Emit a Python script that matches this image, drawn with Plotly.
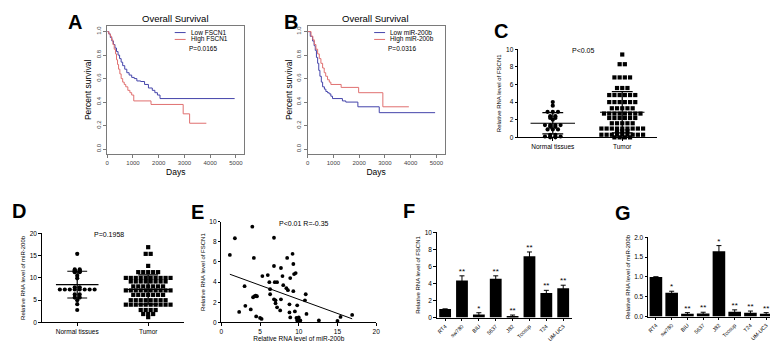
import numpy as np
import plotly.graph_objects as go
from collections import Counter

W, H = 778, 341
FONT = "Arial, Liberation Sans, sans-serif"

# ---------------- DATA ----------------
# A: Kaplan-Meier, FSCN1
low_fscn1_t = [0, 60, 120, 180, 240, 300, 360, 420, 480, 540, 600, 680, 760, 850, 950, 1050, 1150, 1300, 1450, 1600, 1750, 1850, 1950, 2050, 4950]
low_fscn1_s = [1.0, 0.98, 0.95, 0.92, 0.89, 0.86, 0.83, 0.80, 0.77, 0.74, 0.71, 0.68, 0.65, 0.63, 0.61, 0.60, 0.58, 0.575, 0.55, 0.52, 0.50, 0.48, 0.46, 0.43, 0.43]
high_fscn1_t = [0, 60, 120, 170, 220, 270, 320, 360, 400, 440, 490, 540, 600, 660, 720, 800, 880, 950, 1030, 1700, 2950, 3200, 3850]
high_fscn1_s = [1.0, 0.98, 0.96, 0.93, 0.89, 0.85, 0.81, 0.76, 0.72, 0.68, 0.64, 0.60, 0.57, 0.55, 0.53, 0.50, 0.48, 0.46, 0.41, 0.38, 0.30, 0.22, 0.22]
# B: Kaplan-Meier, miR-200b
low_mir_t = [0, 100, 190, 250, 295, 340, 386, 430, 475, 530, 580, 650, 707, 770, 834, 900, 965, 1350, 1480, 1950, 2780, 4950]
low_mir_s = [1.0, 0.96, 0.92, 0.88, 0.84, 0.78, 0.73, 0.67, 0.62, 0.57, 0.53, 0.51, 0.49, 0.48, 0.47, 0.45, 0.43, 0.41, 0.40, 0.36, 0.31, 0.31]
high_mir_t = [0, 130, 200, 257, 320, 386, 450, 514, 580, 642, 700, 772, 840, 900, 1300, 1980, 2920, 3930]
high_mir_s = [1.0, 0.96, 0.93, 0.89, 0.85, 0.81, 0.77, 0.73, 0.69, 0.65, 0.62, 0.59, 0.57, 0.55, 0.525, 0.48, 0.36, 0.36]
days_ticks = [0, 1000, 2000, 3000, 4000, 5000]
surv_ticks = [0.0, 0.2, 0.4, 0.6, 0.8, 1.0]

# C: FSCN1 expression
groups = ["Normal tissues", "Tumor"]
c_normal = [4.0, 3.6, 2.9, 2.9, 2.9, 2.4, 2.4, 2.2, 2.2, 2.0, 1.4, 1.4, 1.4, 1.4, 1.2, 1.2,
            0.9, 0.9, 0.9, 0.3, 0.3, 0.1, 0.1, 0.1, 0.1, 0.0, 0.0]
c_tumor = ([9.4] + [8.3] * 2 + [6.8] * 4 + [5.6] * 3 + [4.8] * 6 + [4.0] * 6 + [3.3] * 5 +
           [2.7] * 8 + [2.2] * 6 + [1.6] * 5 + [1.0] * 9 + [0.7] * 3 + [0.3] * 9 + [0.0] * 4)
c_mean = [1.6, 2.85]
c_sd = [1.2, 2.35]

# D: miR-200b expression
d_normal = [15.4, 11.9, 11.9, 11.7, 11.7, 11.5, 11.5, 11.3, 11.3, 10.5, 9.9, 7.9, 7.9,
            7.4, 7.4, 7.4, 7.4, 7.4, 7.4, 7.4, 7.4, 6.3, 6.3, 5.6, 5.6, 5.0, 4.1, 2.8]
d_tumor = ([16.9] + [15.4] * 2 + [12.7] + [11.3] * 5 + [10.0] * 10 + [9.2] * 8 + [8.1] * 7 +
           [7.2] * 10 + [6.2] * 7 + [5.0] * 8 + [4.0] * 10 + [2.8] * 4 + [1.9] * 3 + [1.2])
d_mean = [8.5, 7.4]
d_sd = [3.0, 3.3]

# E: correlation
e_mir = [1.1, 1.75, 2.3, 3.0, 3.1, 3.8, 4.0, 4.2, 4.3, 4.45, 4.6, 4.1, 4.5, 5.0, 5.2, 5.3, 6.0, 6.2,
         6.3, 6.3, 6.8, 6.8, 6.8, 6.9, 7.0, 7.0, 7.2, 7.2, 7.6, 7.7, 7.7, 7.9, 8.0, 8.4, 8.5, 8.6,
         8.8, 8.8, 8.9, 8.9, 9.2, 9.3, 9.3, 9.4, 9.6, 9.5, 9.7, 9.8, 9.8, 9.9, 10.0, 10.2, 10.8,
         10.9, 11.0, 12.6, 15.0, 15.4, 16.9]
e_fscn1 = [6.7, 8.35, 1.05, 3.6, 1.65, 1.3, 9.5, 6.4, 2.6, 2.65, 2.6, 2.5, 0.6, 0.45, 0.35, 4.6,
           4.7, 4.0, 3.3, 2.8, 2.3, 8.4, 5.6, 4.0, 2.2, 1.9, 4.0, 1.5, 1.2, 2.3, 5.4, 4.6, 3.7,
           3.4, 6.4, 3.2, 1.8, 1.0, 0.5, 4.4, 6.8, 5.8, 3.1, 4.8, 4.9, 1.1, 0.45, 0.2, 1.7, 0.15,
           0.5, 0.2, 2.2, 2.8, 0.85, 0.2, 0.15, 0.55, 0.75]

# F / G: cell lines
cells = ["RT4", "sw780", "BIU", "5637", "J82", "Tccsup", "T24", "UM-UC3"]
f_val = [1.0, 4.35, 0.35, 4.55, 0.2, 7.2, 2.9, 3.45]
f_err = [0.0, 0.55, 0.22, 0.35, 0.1, 0.5, 0.3, 0.35]
f_sig = ["", "**", "*", "**", "**", "**", "**", "**"]
g_val = [1.0, 0.6, 0.07, 0.08, 1.65, 0.12, 0.1, 0.07]
g_err = [0.0, 0.04, 0.03, 0.03, 0.14, 0.05, 0.04, 0.03]
g_sig = ["", "*", "**", "**", "*", "**", "**", "**"]

# ---------------- HELPERS ----------------
def xd(a, b):
    return [a / W, b / W]

def yd(top, bottom):
    return [1 - bottom / H, 1 - top / H]

def axn(n, kind):
    return kind + ("axis" if n == 1 else f"axis{n}")

def ref(n, kind):
    return kind if n == 1 else f"{kind}{n}"

def swarm(vals, center, dx):
    cnt = Counter(vals)
    seen = {}
    xs = []
    for v in vals:
        k = cnt[v]
        i = seen.get(v, 0)
        seen[v] = i + 1
        xs.append(center + (i - (k - 1) / 2) * dx)
    return xs, list(vals)

def meansd(center, m, s, hw, cw):
    xs = [center - hw, center + hw, None, center, center, None,
          center - cw, center + cw, None, center - cw, center + cw]
    ys = [m, m, None, m - s, m + s, None, m + s, m + s, None, m - s, m - s]
    return xs, ys

fig = go.Figure()
layout = dict(
    width=W, height=H, margin=dict(l=0, r=0, t=0, b=0),
    paper_bgcolor="white", plot_bgcolor="white", showlegend=False,
    font=dict(family=FONT, color="black"),
)
annotations = []
shapes = []

def ann(x, y, text, size, bold=False, color="black", angle=0, xanchor="center"):
    annotations.append(dict(
        x=x / W, y=1 - y / H, xref="paper", yref="paper", text=f"<b>{text}</b>" if bold else text,
        showarrow=False, font=dict(size=size, family=FONT, color=color), textangle=angle,
        xanchor=xanchor, yanchor="middle"))

# ---------------- A & B: survival ----------------
GRAY = "#7a7a7a"
BLUE = "#4444aa"
RED = "#e07070"

def surv_panel(n, x0, x1, series, title_x, letter, letter_x, leg_x, labels, pval):
    layout[axn(n, "x")] = dict(
        domain=xd(x0, x1), range=[0, 5320], tickvals=days_ticks, anchor=ref(n, "y"),
        showline=True, mirror=True, linecolor=GRAY, linewidth=1, ticks="outside", ticklen=3,
        tickcolor=GRAY, tickfont=dict(size=6, color="#444"), showgrid=False, zeroline=False,
        title=dict(text="Days", font=dict(size=8.5), standoff=3))
    layout[axn(n, "y")] = dict(
        domain=yd(14, 145), range=[-0.042, 1.05], tickvals=surv_ticks, tickformat=".1f",
        anchor=ref(n, "x"), showline=True, mirror=True, linecolor=GRAY, linewidth=1,
        ticks="outside", ticklen=3, tickcolor=GRAY, tickangle=-90,
        tickfont=dict(size=6, color="#444"), showgrid=False, zeroline=False,
        title=dict(text="Percent survival", font=dict(size=8.5), standoff=2))
    for (t, s), col in zip(series, [BLUE, RED]):
        fig.add_trace(go.Scatter(x=t, y=s, mode="lines", line=dict(color=col, width=1, shape="hv"),
                                 xaxis=ref(n, "x"), yaxis=ref(n, "y")))
    ann(title_x, 7, "Overall Survival", 9.5)
    ann(letter_x, 10, letter, 20, bold=True)
    for i, (lab, col) in enumerate(zip(labels, [BLUE, RED])):
        yy = 21 + i * 7
        shapes.append(dict(type="line", xref="paper", yref="paper", x0=leg_x / W, x1=(leg_x + 11) / W,
                           y0=1 - yy / H, y1=1 - yy / H, line=dict(color=col, width=1)))
        ann(leg_x + 14, yy, lab, 6.5, xanchor="left")
    ann(leg_x + 12, 37, pval, 6.5, xanchor="left")

surv_panel(1, 98, 236, [(low_fscn1_t, low_fscn1_s), (high_fscn1_t, high_fscn1_s)],
           167, "A", 66, 166, ["Low FSCN1", "High FSCN1"], "P=0.0165")
surv_panel(2, 300, 438, [(low_mir_t, low_mir_s), (high_mir_t, high_mir_s)],
           368, "B", 283, 367, ["Low miR-200b", "High miR-200b"], "P=0.0316")

# ---------------- common black axes ----------------
def black_axes(n, xdom, ydom, xr, yr, dtick, xtitle=None, ytitle=None, xticks=None,
               xtickangle=0, tickfmt=None, xfont=6.5):
    xa = dict(domain=xdom, range=xr, anchor=ref(n, "y"), showline=True, linecolor="black",
              linewidth=1, ticks="outside", ticklen=2.5, tickcolor="black", showgrid=False,
              zeroline=False, tickfont=dict(size=xfont), tickangle=xtickangle)
    if xticks is not None:
        xa.update(tickvals=list(range(len(xticks))), ticktext=xticks)
    else:
        xa.update(dtick=5)
    if xtitle:
        xa["title"] = dict(text=xtitle, font=dict(size=6.5), standoff=2)
    ya = dict(domain=ydom, range=yr, anchor=ref(n, "x"), showline=True, linecolor="black",
              linewidth=1, ticks="outside", ticklen=2.5, tickcolor="black", showgrid=False,
              zeroline=False, tickfont=dict(size=6.5), dtick=dtick)
    if tickfmt:
        ya["tickformat"] = tickfmt
    if ytitle:
        ya["title"] = dict(text=ytitle, font=dict(size=6), standoff=3)
    layout[axn(n, "x")] = xa
    layout[axn(n, "y")] = ya

# ---------------- C ----------------
black_axes(3, xd(512, 652), yd(38, 128), [-0.5, 1.5], [0, 10], 2,
           ytitle="Relative RNA level of FSCN1", xticks=groups)
for gi, (vals, sym) in enumerate([(c_normal, "circle"), (c_tumor, "square")]):
    xs, ys = swarm(vals, gi, 0.075)
    fig.add_trace(go.Scatter(x=xs, y=ys, mode="markers", cliponaxis=False,
                             marker=dict(symbol=sym, size=4.2, color="black"), xaxis="x3", yaxis="y3"))
    mx, my = meansd(gi, c_mean[gi], c_sd[gi], 0.32, 0.15)
    fig.add_trace(go.Scatter(x=mx, y=my, mode="lines", line=dict(color="black", width=1.2),
                             cliponaxis=False, xaxis="x3", yaxis="y3"))
ann(577, 39, "P<0.05", 7)
ann(495, 19, "C", 20, bold=True)

# ---------------- D ----------------
black_axes(4, xd(32, 175), yd(226, 317), [-0.5, 1.5], [0, 20], 5,
           ytitle="Relative RNA level of miR-200b", xticks=groups)
for gi, (vals, sym) in enumerate([(d_normal, "circle"), (d_tumor, "square")]):
    xs, ys = swarm(vals, gi, 0.07)
    fig.add_trace(go.Scatter(x=xs, y=ys, mode="markers", cliponaxis=False,
                             marker=dict(symbol=sym, size=4.2, color="black"), xaxis="x4", yaxis="y4"))
    mx, my = meansd(gi, d_mean[gi], d_sd[gi], 0.3, 0.14)
    fig.add_trace(go.Scatter(x=mx, y=my, mode="lines", line=dict(color="black", width=1.2),
                             cliponaxis=False, xaxis="x4", yaxis="y4"))
ann(100, 227, "P=0.1958", 7)
ann(9, 203, "D", 20, bold=True)

# ---------------- E ----------------
black_axes(5, xd(213, 369), yd(214, 317), [0, 20], [0, 10], 2,
           xtitle="Relative RNA level of miR-200b", ytitle="Relative RNA level of FSCN1")
fig.add_trace(go.Scatter(x=e_mir, y=e_fscn1, mode="markers", cliponaxis=False,
                         marker=dict(size=3.8, color="black"), xaxis="x5", yaxis="y5"))
slope, icpt = np.polyfit(e_mir, e_fscn1, 1)
lx = [min(e_mir), max(e_mir)]
fig.add_trace(go.Scatter(x=lx, y=[slope * v + icpt for v in lx], mode="lines",
                         line=dict(color="black", width=1), xaxis="x5", yaxis="y5"))
ann(296, 216, "P<0.01 R=-0.35", 7)
ann(189, 204, "E", 20, bold=True)

# ---------------- F ----------------
black_axes(6, xd(430, 566), yd(225, 312), [-0.5, 7.5], [0, 10], 2,
           ytitle="Relative RNA level of FSCN1", xticks=cells, xtickangle=-45, xfont=5.4)
fig.add_trace(go.Bar(x=list(range(len(cells))), y=f_val, width=0.7, marker=dict(color="black", line=dict(width=0)),
                     error_y=dict(type="data", array=f_err, color="black", thickness=1, width=2.5),
                     xaxis="x6", yaxis="y6"))
fig.add_trace(go.Scatter(x=list(range(len(cells))), y=[v + e for v, e in zip(f_val, f_err)], mode="text",
                         text=f_sig, textposition="top center", textfont=dict(size=8), cliponaxis=False,
                         xaxis="x6", yaxis="y6"))
ann(402, 203, "F", 20, bold=True)

# ---------------- G ----------------
black_axes(7, xd(643, 770), yd(230, 311), [-0.5, 7.5], [0, 2], 0.5,
           ytitle="Relative RNA level of miR-200b", xticks=cells, xtickangle=-45, tickfmt=".1f",
           xfont=5.4)
fig.add_trace(go.Bar(x=list(range(len(cells))), y=g_val, width=0.8, marker=dict(color="black", line=dict(width=0)),
                     error_y=dict(type="data", array=g_err, color="black", thickness=1, width=2.5),
                     xaxis="x7", yaxis="y7"))
fig.add_trace(go.Scatter(x=list(range(len(cells))), y=[v + e for v, e in zip(g_val, g_err)], mode="text",
                         text=g_sig, textposition="top center", textfont=dict(size=8), cliponaxis=False,
                         xaxis="x7", yaxis="y7"))
ann(618, 205, "G", 20, bold=True)

layout["annotations"] = annotations
layout["shapes"] = shapes
fig.update_layout(**layout)
fig.write_html("out.html")
